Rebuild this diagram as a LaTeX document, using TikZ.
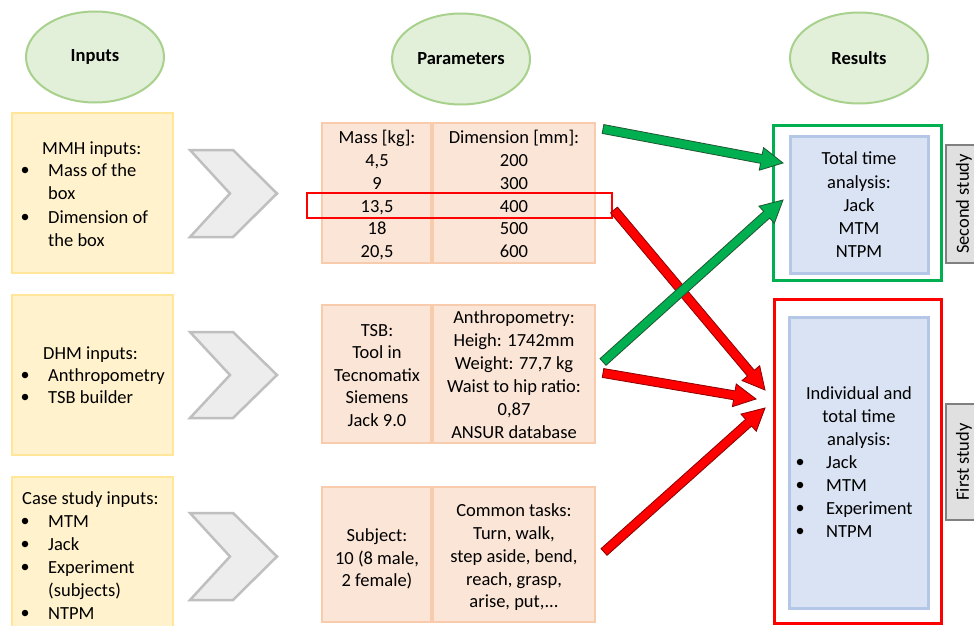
\documentclass[tikz,border=0pt]{standalone}
\usepackage{fontspec}
\setmainfont{Carlito}
\usetikzlibrary{shapes.geometric,calc,fit}
\definecolor{yfill}{HTML}{FFF2CC}
\definecolor{ydraw}{HTML}{FFE699}
\definecolor{pfill}{HTML}{FBE5D6}
\definecolor{pdraw}{HTML}{F8CBAD}
\definecolor{efill}{HTML}{E2F0D9}
\definecolor{edraw}{HTML}{A9D18E}
\definecolor{bfill}{HTML}{DAE3F3}
\definecolor{bdraw}{HTML}{B4C7E7}
\definecolor{gfill}{HTML}{00B050}
\definecolor{gline}{HTML}{1E5631}
\definecolor{rline}{HTML}{8B0000}
\definecolor{chfill}{HTML}{EDEDED}
\definecolor{chdraw}{HTML}{BFBFBF}
\definecolor{grfill}{HTML}{E0E0E0}
\definecolor{grdraw}{HTML}{808080}
\newcommand\blockarrow[3]{%
  \coordinate (hb) at ($(#3)!22pt!(#2)$);
  \draw[#1] ($(#2)!4.5pt!90:(#3)$) -- ($(hb)!4.5pt!90:(#3)$) -- ($(hb)!11.5pt!90:(#3)$) -- (#3)
    -- ($(hb)!11.5pt!270:(#3)$) -- ($(hb)!4.5pt!270:(#3)$) -- ($(#2)!4.5pt!270:(#3)$) -- cycle;
}
\begin{document}
\begin{tikzpicture}[x=1pt,y=-1pt,
  box/.style={inner sep=0pt, line width=2pt},
  ybox/.style={box, draw=ydraw, fill=yfill},
  pbox/.style={box, draw=pdraw, fill=pfill, line width=2.5pt},
  bbox/.style={box, draw=bdraw, fill=bfill, line width=3pt},
  gframe/.style={box, draw=gfill, line width=3pt},
  rframe/.style={box, draw=red, line width=3pt},
  gbox/.style={box, draw=grdraw, fill=grfill, line width=1.8pt},
  ell/.style={ellipse, draw=edraw, fill=efill, line width=2pt, minimum width=138pt, minimum height=91pt, inner sep=0pt, font=\fontsize{18.5}{22}\selectfont\bfseries},
  txt/.style={inner sep=0pt, font=\fontsize{18.5}{22}\selectfont, anchor=base},
  txl/.style={txt, anchor=base west},
  dot/.style={circle, fill=black, inner sep=0pt, minimum size=6.5pt},
  chev/.style={draw=chdraw, fill=chfill, line width=2.5pt, line join=miter},
  garr/.style={fill=gfill, draw=gline, line width=0.8pt, line join=miter},
  rarr/.style={fill=red, draw=rline, line width=0.8pt, line join=miter}
]
\fill[white] (0,0) rectangle (974,626);
\useasboundingbox (0,0) rectangle (974,626);

% header ellipses
\node[ell] (inp) at (95,57) {Inputs};
\node[ell] (par) at (461,59) {Parameters};
\node[ell] (res) at (859,58) {Results};

% input boxes
\node[ybox, fit={(12,113) (173,273)}] (in1) {};
\node[ybox, fit={(12,295) (173,455)}] (in2) {};
\node[ybox, fit={(12,477) (173,640)}] (in3) {};

\node[txl] (in1h) at (42,154) {MMH inputs:};
\node[dot] (in1b1) at (25,170) {};
\node[txl] (in1a) at (48,176) {Mass of the};
\node[txl] (in1b) at (48,199) {box};
\node[dot] (in1b2) at (25,217) {};
\node[txl] (in1c) at (48,223) {Dimension of};
\node[txl] (in1d) at (48,246) {the box};

\node[txl] (in2h) at (43,359) {DHM inputs:};
\node[dot] (in2b1) at (25,375) {};
\node[txl] (in2a) at (48,381) {Anthropometry};
\node[dot] (in2b2) at (25,397) {};
\node[txl] (in2b) at (48,403) {TSB builder};

\node[txl] (in3h) at (22,504) {Case study inputs:};
\node[dot] (in3b1) at (25,521) {};
\node[txl] (in3a) at (48,527) {MTM};
\node[dot] (in3b2) at (25,544) {};
\node[txl] (in3b) at (48,550) {Jack};
\node[dot] (in3b3) at (25,567) {};
\node[txl] (in3c) at (48,573) {Experiment};
\node[txl] (in3d) at (48,596) {(subjects)};
\node[dot] (in3b4) at (25,613) {};
\node[txl] (in3e) at (48,619) {NTPM};

% chevrons
\draw[chev] (190,150) -- (233,150) -- (277,193.5) -- (233,237) -- (190,237) -- (230,193.5) -- cycle;
\draw[chev] (190,332) -- (233,332) -- (277,375) -- (233,418) -- (190,418) -- (230,375) -- cycle;
\draw[chev] (190,513) -- (233,513) -- (277,556.5) -- (233,600) -- (190,600) -- (230,556.5) -- cycle;

% parameter tables
\node[pbox, fit={(322,123) (431,263)}] (t1l) {};
\node[pbox, fit={(433,123) (595,263)}] (t1r) {};
\node[pbox, fit={(322,305) (431,443)}] (t2l) {};
\node[pbox, fit={(433,305) (595,443)}] (t2r) {};
\node[pbox, fit={(322,487) (431,622)}] (t3l) {};
\node[pbox, fit={(433,487) (595,622)}] (t3r) {};

\node[txt] (m0) at (377,143) {Mass [kg]:};
\node[txt] (m1) at (377,166) {4,5};
\node[txt] (m2) at (377,189) {9};
\node[txt] (m3) at (377,212) {13,5};
\node[txt] (m4) at (377,234) {18};
\node[txt] (m5) at (377,257) {20,5};
\node[txt] (d0) at (514,143) {Dimension [mm]:};
\node[txt] (d1) at (514,166) {200};
\node[txt] (d2) at (514,189) {300};
\node[txt] (d3) at (514,212) {400};
\node[txt] (d4) at (514,234) {500};
\node[txt] (d5) at (514,257) {600};

\node[box, draw=red, line width=2.5pt, fit={(307,193) (612,218)}] (hl) {};

\node[txt] (s1) at (377,336) {TSB:};
\node[txt] (s2) at (377,358.5) {Tool in};
\node[txt] (s3) at (377,381) {Tecnomatix};
\node[txt] (s4) at (377,403.5) {Siemens};
\node[txt] (s5) at (377,426) {Jack 9.0};
\node[txt] (a1) at (514,323) {Anthropometry:};
\node[txt] (a2) at (514,346) {Heigh: 1742mm};
\node[txt] (a3) at (514,369) {Weight: 77,7 kg};
\node[txt] (a4) at (514,392) {Waist to hip ratio:};
\node[txt] (a5) at (514,415) {0,87};
\node[txt] (a6) at (514,438) {ANSUR database};

\node[txt] (u1) at (377,541) {Subject:};
\node[txt] (u2) at (377,564) {10 (8 male,};
\node[txt] (u3) at (377,586) {2 female)};
\node[txt] (c1) at (514,516) {Common tasks:};
\node[txt] (c2) at (514,539) {Turn, walk,};
\node[txt] (c3) at (514,562) {step aside, bend,};
\node[txt] (c4) at (514,585) {reach, grasp,};
\node[txt] (c5) at (514,607) {arise, put,...};

% result boxes
\node[gframe, fit={(773,125) (941,280)}] (gf) {};
\node[bbox, fit={(790,136) (928,273)}] (r2) {};
\node[rframe, fit={(774,299) (941,623)}] (rf) {};
\node[bbox, fit={(789,317) (928,608)}] (r1) {};

\node[txt] (q1) at (859,164) {Total time};
\node[txt] (q2) at (859,188) {analysis:};
\node[txt] (q3) at (859,211) {Jack};
\node[txt] (q4) at (859,234) {MTM};
\node[txt] (q5) at (859,257) {NTPM};

\node[txt] (p1) at (859,399) {Individual and};
\node[txt] (p2) at (859,422) {total time};
\node[txt] (p3) at (859,445) {analysis:};
\node[dot] (pb1) at (800,462) {};
\node[txl] (p4) at (826,468) {Jack};
\node[dot] (pb2) at (800,485) {};
\node[txl] (p5) at (826,491) {MTM};
\node[dot] (pb3) at (800,508) {};
\node[txl] (p6) at (826,514) {Experiment};
\node[dot] (pb4) at (800,531) {};
\node[txl] (p7) at (826,537) {NTPM};

% study labels
\node[gbox, fit={(946,145) (995,263)}] (sec) {};
\node[txt, rotate=90, anchor=center] (secl) at (964,204) {Second study};
\node[gbox, fit={(946,404) (995,520)}] (fst) {};
\node[txt, rotate=90, anchor=center] (fstl) at (964,462) {First study};

% arrows
\coordinate (g1s) at (603,129);
\coordinate (g1e) at (783,163);
\coordinate (g2s) at (603,362);
\coordinate (g2e) at (783,200);
\coordinate (r1s) at (614,210);
\coordinate (r1e) at (765,390);
\coordinate (r2s) at (603,373);
\coordinate (r2e) at (756,399);
\coordinate (r3s) at (604,552);
\coordinate (r3e) at (765,408);

\blockarrow{rarr}{r1s}{r1e}
\blockarrow{garr}{g1s}{g1e}
\blockarrow{garr}{g2s}{g2e}
\blockarrow{rarr}{r2s}{r2e}
\blockarrow{rarr}{r3s}{r3e}
\end{tikzpicture}
\end{document}
